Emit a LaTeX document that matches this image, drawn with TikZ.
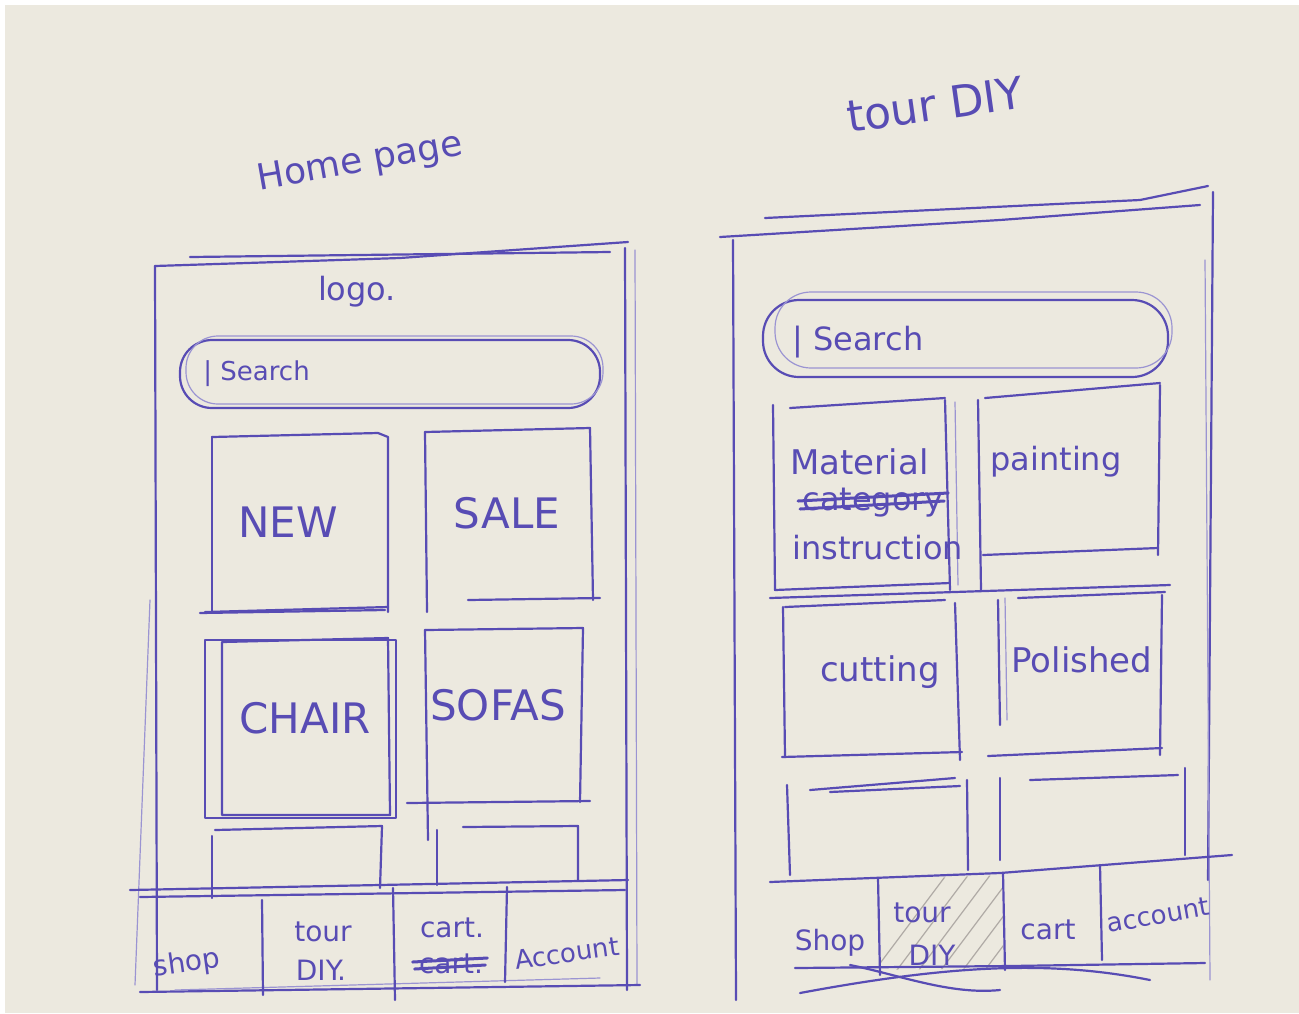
\documentclass[tikz,border=0pt]{standalone}
\usepackage{fontspec}
\setmainfont{DejaVu Sans}
\usetikzlibrary{calc}
\definecolor{paper}{RGB}{236,233,223}
\definecolor{pen}{RGB}{88,76,180}
\definecolor{hatch}{RGB}{175,170,165}
\begin{document}
\begin{tikzpicture}[x=0.5pt,y=-0.5pt,
  pen/.style={draw=pen,line width=1.1pt,line cap=round,line join=round},
  thin/.style={draw=pen!60,line width=0.6pt,line cap=round},
  big/.style={text=pen,font=\fontsize{21}{23}\selectfont,inner sep=0pt},
  tile/.style={text=pen,font=\fontsize{17}{19}\selectfont,inner sep=0pt},
  mid/.style={text=pen,font=\fontsize{16}{18}\selectfont,inner sep=0pt},
  tab/.style={text=pen,font=\fontsize{14}{16}\selectfont,inner sep=0pt},
  small/.style={text=pen,font=\fontsize{13}{15}\selectfont,inner sep=0pt},
  title/.style={text=pen,font=\fontsize{18}{20}\selectfont,inner sep=0pt}]
\useasboundingbox (0,0) rectangle (1299,1013);
\fill[white] (0,0) rectangle (1299,1013);
\fill[paper] (5,5) rectangle (1299,1013);

% ---------------- LEFT PHONE: Home page ----------------
\node[title,rotate=10] (t1) at (360,163) {Home page};
% frame
\draw[pen] (190,257) -- (610,252);
\draw[pen] (155,266) -- (400,258) -- (628,242);
\draw[pen] (155,266) -- (157,990);
\draw[thin] (150,600) -- (135,985);
\draw[pen] (625,248) -- (627,990);
\draw[thin] (635,250) -- (637,985);
\node[mid] (logo) at (357,292) {logo.};
% search pill
\draw[pen,rounded corners=16pt] (180,340) rectangle (600,408);
\draw[thin,rounded corners=16pt] (186,336) rectangle (603,404);
\node[small,anchor=west] (s1) at (203,374) {| Search};
% tiles
\draw[pen] (212,437) -- (378,433) -- (388,437) -- (388,612);
\draw[pen] (212,437) -- (212,612);
\draw[pen] (205,612) -- (388,607);
\node[big] (new) at (288,522) {NEW};
\draw[pen] (425,432) -- (590,428) -- (593,600);
\draw[pen] (425,432) -- (427,612);
\draw[pen] (468,600) -- (600,598);
\node[big] (sale) at (507,513) {SALE};
\draw[pen] (200,613) -- (385,610);
\draw[pen] (205,640) rectangle (396,818);
\draw[pen] (222,642) -- (388,638) -- (390,815) -- (222,815) -- cycle;
\node[big] (chair) at (305,718) {CHAIR};
\draw[pen] (425,630) -- (583,628) -- (580,802);
\draw[pen] (425,630) -- (428,840);
\draw[pen] (407,803) -- (590,801);
\node[big] (sofas) at (498,705) {SOFAS};
% partial row
\draw[pen] (215,830) -- (382,826) -- (380,888);
\draw[pen] (212,836) -- (212,898);
\draw[pen] (463,827) -- (578,826) -- (578,880);
\draw[pen] (437,830) -- (437,885);
% tab bar
\draw[pen] (130,890) -- (628,880);
\draw[pen] (140,897) -- (625,890);
\draw[pen] (140,992) -- (640,985);
\draw[thin] (175,990) -- (600,978);
\draw[pen] (262,900) -- (263,995);
\draw[pen] (393,888) -- (395,1000);
\draw[pen] (507,887) -- (505,982);
\node[tab,rotate=8] (shop1) at (187,964) {shop};
\node[tab] (tour1) at (323,932) {tour};
\node[tab] (diy1) at (321,970) {DIY.};
\node[tab] (cart1) at (452,928) {cart.};
\node[tab] (cartx) at (451,964) {cart.};
\draw[pen,line width=1.5pt] ($(cartx.west)+(-6,-2)$) -- ($(cartx.east)+(4,-6)$);
\draw[pen,line width=1.5pt] ($(cartx.west)+(-4,5)$) -- ($(cartx.east)+(2,1)$);
\node[small,rotate=8] (acc1) at (567,953) {Account};

% ---------------- RIGHT PHONE: tour DIY ----------------
\node[title,font=\fontsize{22}{24}\selectfont,rotate=8] (t2) at (935,105) {tour DIY};
% frame
\draw[pen] (765,218) -- (1140,200) -- (1208,186);
\draw[pen] (720,237) -- (1000,220) -- (1200,205);
\draw[pen] (733,240) -- (736,1000);
\draw[pen] (1213,192) -- (1208,880);
\draw[thin] (1205,260) -- (1210,980);
% search pill
\draw[pen,rounded corners=18pt] (763,300) rectangle (1168,377);
\draw[thin,rounded corners=18pt] (775,292) rectangle (1172,368);
\node[mid,anchor=west] (s2) at (792,342) {| Search};
% tiles
\draw[pen] (790,408) -- (945,398);
\draw[pen] (773,405) -- (775,590) -- (950,583);
\draw[pen] (945,400) -- (950,590);
\draw[thin] (955,402) -- (958,585);
\node[tile,anchor=west] (mat) at (790,462) {Material};
\node[mid,anchor=west] (cat) at (802,503) {category};
\draw[pen,line width=1.5pt] ($(cat.west)+(-4,-2)$) -- ($(cat.east)+(4,-10)$);
\draw[pen,line width=1.5pt] ($(cat.west)+(-2,6)$) -- ($(cat.east)+(0,-2)$);
\node[mid,anchor=west] (ins) at (792,548) {instruction};
\draw[pen] (985,398) -- (1160,383);
\draw[pen] (978,400) -- (981,590);
\draw[pen] (1160,385) -- (1158,555);
\draw[pen] (983,555) -- (1158,548);
\node[mid,anchor=west] (pai) at (990,462) {painting};
\draw[pen] (770,598) -- (1170,585);
\draw[pen] (785,607) -- (945,600);
\draw[pen] (783,607) -- (785,757);
\draw[pen] (955,603) -- (960,760);
\draw[pen] (782,757) -- (962,752);
\node[tile] (cut) at (880,672) {cutting};
\draw[pen] (1018,598) -- (1165,592);
\draw[pen] (998,600) -- (1000,725);
\draw[thin] (1005,598) -- (1007,720);
\draw[pen] (1162,595) -- (1160,755);
\draw[pen] (988,756) -- (1162,748);
\node[tile] (pol) at (1082,660) {Polished};
% partial row
\draw[pen] (810,790) -- (955,778);
\draw[pen] (830,792) -- (960,786);
\draw[pen] (787,785) -- (790,875);
\draw[pen] (967,780) -- (968,870);
\draw[pen] (1000,778) -- (1000,860);
\draw[pen] (1030,780) -- (1178,775);
\draw[pen] (1185,768) -- (1185,855);
% tab bar
\begin{scope}
\clip (880,880) -- (1003,875) -- (1003,968) -- (880,970) -- cycle;
\foreach \k in {0,...,12} {
  \draw[hatch,line width=0.6pt] (860+22*\k,990) -- ++(90,-120);
}
\end{scope}
\draw[pen] (770,882) -- (1000,873) -- (1232,855);
\draw[pen] (795,968) -- (1010,966) -- (1205,963);
\draw[pen] (800,993) .. controls (950,965) and (1050,960) .. (1150,980);
\draw[pen] (850,965) .. controls (900,975) and (950,995) .. (1000,990);
\draw[pen] (878,878) -- (880,975);
\draw[pen] (1003,873) -- (1005,970);
\draw[pen] (1100,865) -- (1102,960);
\node[tab] (shop2) at (830,943) {Shop};
\node[tab] (tour2) at (922,913) {tour};
\node[tab] (diy2) at (932,955) {DIY};
\node[tab] (cart2) at (1048,930) {cart};
\node[small,rotate=10] (acc2) at (1158,915) {account};
\end{tikzpicture}
\end{document}
